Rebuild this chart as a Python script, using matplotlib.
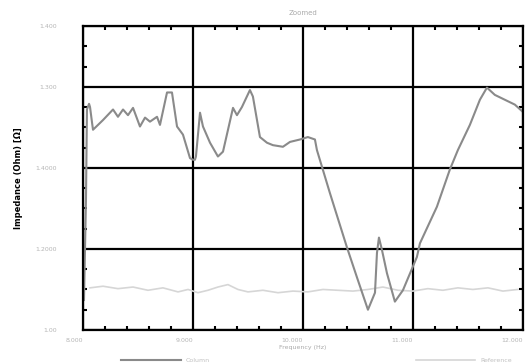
import numpy as np
import matplotlib
matplotlib.use("Agg")
import matplotlib.pyplot as plt
from matplotlib.ticker import MultipleLocator, AutoMinorLocator

# main trace (frequency, impedance)
freq_main = [0.009, 0.027, 0.036, 0.055, 0.064, 0.082, 0.091, 0.182, 0.273, 0.318,
             0.364, 0.409, 0.455, 0.518, 0.564, 0.609, 0.673, 0.700, 0.764, 0.809,
             0.855, 0.909, 0.973, 1.000, 1.018, 1.027, 1.064, 1.091, 1.155, 1.227,
             1.273, 1.364, 1.400, 1.445, 1.518, 1.545, 1.609, 1.673, 1.727, 1.818,
             1.882, 1.973, 2.045, 2.109, 2.127, 2.245, 2.400, 2.491, 2.591, 2.655,
             2.673, 2.691, 2.718, 2.764, 2.836, 2.909, 3.036, 3.064, 3.218, 3.336,
             3.409, 3.518, 3.609, 3.673, 3.745, 3.836, 3.927, 4.000]
imp_main = [1.037, 1.160, 1.272, 1.279, 1.275, 1.256, 1.247, 1.259, 1.272, 1.263,
            1.272, 1.265, 1.274, 1.251, 1.262, 1.257, 1.263, 1.253, 1.293, 1.293,
            1.251, 1.241, 1.212, 1.210, 1.210, 1.214, 1.268, 1.251, 1.231, 1.214,
            1.220, 1.274, 1.265, 1.275, 1.296, 1.288, 1.238, 1.231, 1.228, 1.226,
            1.232, 1.235, 1.238, 1.235, 1.222, 1.169, 1.102, 1.065, 1.025, 1.046,
            1.095, 1.114, 1.099, 1.070, 1.035, 1.049, 1.090, 1.107, 1.152, 1.198,
            1.222, 1.253, 1.284, 1.299, 1.290, 1.284, 1.278, 1.269]

# faint secondary trace
freq_ref = [0.064, 0.182, 0.318, 0.455, 0.591, 0.727, 0.864, 0.955, 1.045, 1.136,
            1.227, 1.318, 1.409, 1.500, 1.636, 1.773, 1.909, 2.045, 2.182, 2.318,
            2.455, 2.591, 2.727, 2.864, 3.000, 3.136, 3.273, 3.409, 3.545, 3.682,
            3.818, 3.955]
imp_ref = [1.052, 1.054, 1.051, 1.053, 1.049, 1.052, 1.047, 1.050, 1.046, 1.049,
           1.053, 1.056, 1.050, 1.047, 1.049, 1.046, 1.048, 1.047, 1.050, 1.049,
           1.048, 1.050, 1.053, 1.049, 1.048, 1.051, 1.049, 1.052, 1.050, 1.052,
           1.048, 1.050]

x_ticks = [0, 1, 2, 3, 4]
x_labels = ["8.000", "9.000", "10.000", "11.000", "12.000"]
y_ticks = [1.0, 1.1, 1.2, 1.3, 1.375]
y_labels = ["1.00", "1.2000", "1.4000", "1.300", "1.400"]

fig = plt.figure(figsize=(5.3, 3.62), dpi=100)
ax = fig.add_axes([0.1566, 0.0884, 0.830, 0.8398])

ax.plot(freq_ref, imp_ref, color="#d6d6d6", lw=1.2, label="Reference")
ax.plot(freq_main, imp_main, color="#8a8a8a", lw=1.5, label="Column")

ax.set_xlim(0, 4)
ax.set_ylim(1.0, 1.375)
ax.set_xticks(x_ticks)
ax.set_xticklabels(x_labels)
ax.set_yticks(y_ticks)
ax.set_yticklabels(y_labels)
ax.xaxis.set_minor_locator(AutoMinorLocator(5))
ax.yaxis.set_minor_locator(MultipleLocator(0.025))

ax.grid(True, which="major", color="black", lw=1.6)
for s in ax.spines.values():
    s.set_linewidth(1.6)
ax.tick_params(which="both", direction="in", top=True, right=True,
               colors="black", labelcolor="#b5b5b5", labelsize=4.5)
ax.tick_params(axis="x", which="major", length=0, pad=6)
ax.tick_params(axis="y", which="major", length=0, pad=19)
ax.tick_params(which="minor", length=3, width=1.5)
for lab in ax.get_xticklabels():
    lab.set_horizontalalignment("right")

ax.set_title("Zoomed", fontsize=5, color="#aaaaaa", pad=8)
ax.set_xlabel("Frequency (Hz)", fontsize=4.5, color="#aaaaaa", labelpad=1)
ax.set_ylabel("Impedance (Ohm) [Ω]", fontsize=6, fontweight="bold",
              color="black", labelpad=9)

handles, labels = ax.get_legend_handles_labels()
fig.legend(handles[::-1], labels[::-1], loc="center left",
           bbox_to_anchor=(0.218, 0.005), ncol=2, frameon=False,
           fontsize=4.5, labelcolor="#c0c0c0", handlelength=9.5,
           columnspacing=33)

fig.savefig("out.png", dpi=100)
